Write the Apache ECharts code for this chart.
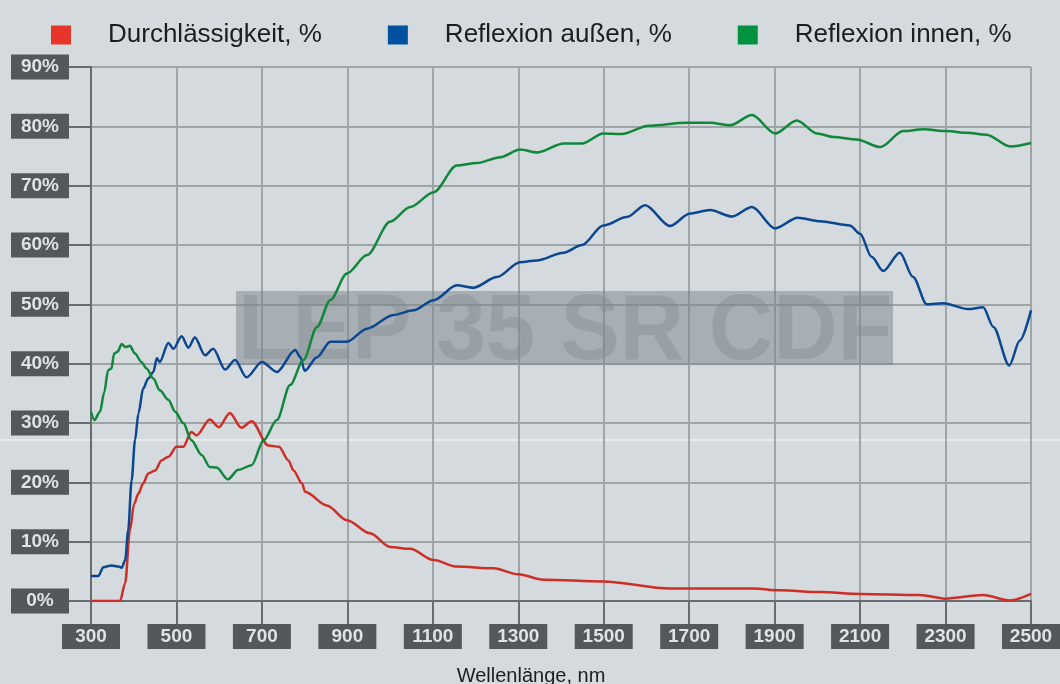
<!DOCTYPE html>
<html>
<head>
<meta charset="utf-8">
<script src="https://cdn.jsdelivr.net/npm/echarts@6/dist/echarts.min.js"></script>
<style>
html,body{margin:0;padding:0;background:#d4dadd;}
#chart{width:1060px;height:684px;}
</style>
</head>
<body>
<div id="chart"></div>
<script>
// Wellenlänge (nm) und Werte (%) je Kurve
var redX = [300,368,380,391,401,411,422,434,450,465,481,500,516,535,547,578,599,625,652,676,715,740,762,774,794,801,852,899,953,1000,1047,1102,1156,1242,1300,1359,1499,1655,1850,1913,2006,2100,2240,2299,2388,2451,2500];
var redY = [0,0,3.0,11.9,16.4,18.1,19.8,21.5,22.0,23.7,24.3,26.0,26.0,28.5,27.9,30.6,29.3,31.7,29.2,30.3,26.2,26.0,23.7,22.0,19.8,18.4,16.1,13.6,11.4,9.1,8.8,6.9,5.8,5.5,4.5,3.6,3.3,2.1,2.1,1.8,1.5,1.2,1.0,0.4,1.0,0.1,1.2];

var blueX = [300,317,329,348,364,372,380,387,395,403,411,422,434,446,454,461,481,493,512,528,543,567,586,614,637,664,700,735,778,790,800,829,860,899,946,1008,1055,1102,1156,1195,1250,1304,1343,1406,1449,1499,1554,1597,1655,1702,1749,1800,1847,1901,1954,2006,2076,2100,2127,2154,2193,2224,2256,2295,2353,2388,2412,2449,2474,2500];
var blueY = [4.2,4.2,5.7,6.0,5.8,5.6,6.9,11.9,20.3,27.1,31.6,35.8,37.5,38.6,40.9,40.3,43.5,42.5,44.6,42.7,44.4,41.4,42.5,39.0,40.6,37.7,40.3,38.6,42.3,41.1,38.8,41.1,43.7,43.7,45.9,48.2,49.0,50.7,53.2,52.8,54.6,57.1,57.4,58.7,60.0,63.3,64.7,66.7,63.2,65.3,65.9,64.8,66.4,62.8,64.6,64.0,63.3,61.9,58.0,55.6,58.7,54.6,50.0,50.2,49.2,49.5,46.2,39.7,43.9,49.0];

var greenX = [300,308,321,331,340,348,354,362,372,380,391,403,418,430,446,461,481,497,516,535,559,578,594,620,645,676,704,735,766,797,829,860,899,946,1000,1047,1102,1156,1203,1258,1304,1345,1406,1449,1499,1542,1605,1694,1749,1796,1847,1901,1952,1999,2038,2092,2147,2201,2248,2303,2350,2396,2451,2500];
var greenY = [31.9,30.5,31.9,35.2,38.9,39.2,41.7,42.0,43.3,42.8,43.0,41.7,40.3,39.2,37.5,35.5,33.9,31.9,30.0,27.1,24.6,22.6,22.5,20.5,22.1,22.9,27.1,30.5,36.4,40.6,46.2,50.7,55.2,58.3,63.9,66.4,68.9,73.4,73.8,74.8,76.1,75.6,77.1,77.1,78.8,78.7,80.1,80.6,80.6,80.2,81.9,78.8,81.0,78.8,78.2,77.8,76.5,79.2,79.5,79.2,78.9,78.6,76.6,77.2];

var seriesNames = ['Durchlässigkeit, %', 'Reflexion außen, %', 'Reflexion innen, %'];

function pairs(xs, ys){
	var out = [];
	for(var i = 0; i < xs.length; i++){
		out.push([xs[i], ys[i]]);
	}
	return out;
}

var chart = echarts.init(document.getElementById('chart'));

// dunkle Kästchen für die Achsenbeschriftung
var boxLabel = {
	color: '#dfe3e6',
	fontFamily: 'Liberation Sans',
	fontWeight: 'bold',
	fontSize: 19,
	lineHeight: 19,
	backgroundColor: '#54585c',
	align: 'center'
};

var option = {
	backgroundColor: '#d4dadd',
	animation: false,
	legend: {
		left: 46,
		top: 17,
		icon: 'rect',
		itemWidth: 20,
		itemHeight: 19,
		itemGap: 66,
		textStyle: {fontSize: 26, color: '#1d1d1d', fontFamily: 'Liberation Sans', padding: [0, 0, 0, 32]},
		data: [
			{name: seriesNames[0], itemStyle: {color: '#e8352b'}},
			{name: seriesNames[1], itemStyle: {color: '#0050a0'}},
			{name: seriesNames[2], itemStyle: {color: '#00923f'}}
		]
	},
	grid: {left: 91, right: 29, top: 67, bottom: 83, outerBoundsMode: 'none'},
	xAxis: {
		type: 'value',
		min: 300,
		max: 2500,
		interval: 200,
		name: 'Wellenlänge, nm',
		nameLocation: 'middle',
		nameGap: 65,
		nameTextStyle: {fontSize: 20, color: '#1d1d1d', fontFamily: 'Liberation Sans', padding: [0, 60, 0, 0]},
		axisLine: {show: true, lineStyle: {color: '#686c70', width: 2}},
		axisTick: {show: true, length: 23, lineStyle: {color: '#686c70', width: 2}},
		axisLabel: Object.assign({}, boxLabel, {margin: 23, width: 42, padding: [3, 8, 3, 8], formatter: function(v){ return String(v); }}),
		splitLine: {show: true, lineStyle: {color: '#9fa4a7', width: 2}}
	},
	yAxis: {
		type: 'value',
		min: 0,
		max: 90,
		interval: 10,
		axisLine: {show: true, lineStyle: {color: '#686c70', width: 2}},
		axisTick: {show: true, length: 22, lineStyle: {color: '#686c70', width: 2}},
		axisLabel: Object.assign({}, boxLabel, {margin: 51, width: 38, padding: [3, 10, 3, 10], formatter: '{value}%'}),
		splitLine: {show: true, lineStyle: {color: '#9fa4a7', width: 2}}
	},
	graphic: [
		{type: 'rect', z: -1, shape: {x: 0, y: 439, width: 1060, height: 2}, style: {fill: 'rgba(255,255,255,0.45)'}},
		{type: 'rect', z: 1, shape: {x: 236, y: 291, width: 657, height: 74}, style: {fill: 'rgba(122,132,139,0.5)'}},
		{type: 'text', z: 1, x: 238, y: 333, scaleX: 0.91, scaleY: 0.95,
			style: {text: 'LEP 35 SR CDF', font: 'bold 98px "Liberation Sans"', fill: 'rgba(125,133,139,0.35)', verticalAlign: 'middle', textVerticalAlign: 'middle'}}
	],
	series: [
		{name: seriesNames[0], type: 'line', showSymbol: false, smooth: 0.3, smoothMonotone: 'x', z: 3,
			lineStyle: {color: '#cf2e27', width: 2.5}, itemStyle: {color: '#cf2e27'}, data: pairs(redX, redY)},
		{name: seriesNames[1], type: 'line', showSymbol: false, smooth: 0.3, smoothMonotone: 'x', z: 3,
			lineStyle: {color: '#0b4790', width: 2.5}, itemStyle: {color: '#0b4790'}, data: pairs(blueX, blueY)},
		{name: seriesNames[2], type: 'line', showSymbol: false, smooth: 0.3, smoothMonotone: 'x', z: 3,
			lineStyle: {color: '#10873a', width: 2.5}, itemStyle: {color: '#10873a'}, data: pairs(greenX, greenY)}
	]
};
chart.setOption(option);
</script>
</body>
</html>
